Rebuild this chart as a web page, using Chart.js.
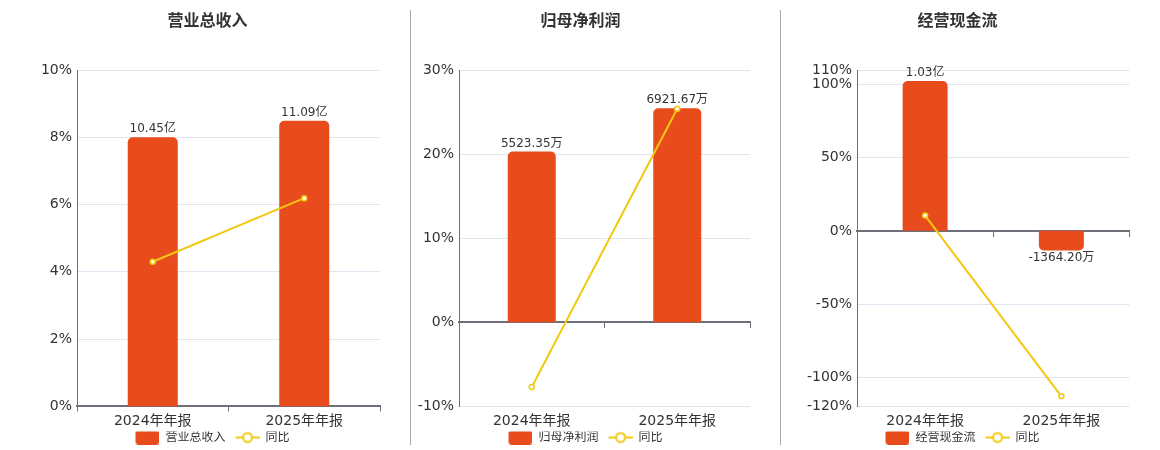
<!DOCTYPE html>
<html lang="zh-CN">
<head>
    <meta charset="UTF-8">
    <title>财务指标</title>
    <script src="https://cdn.jsdelivr.net/npm/chart.js"></script>
    <style>
        body { margin: 0; background: #fff; }
        #wrap { position: relative; width: 1160px; height: 450px; overflow: hidden; }
        .box { position: absolute; top: 0; height: 450px; }
        .sep { position: absolute; top: 10px; width: 1px; height: 435px; background: #aaa; }
    </style>
</head>
<body>
<div id="wrap">
    <div class="box" style="left:0; width:415px;"><canvas id="chart_revenue"></canvas></div>
    <div class="box" style="left:405px; width:351px;"><canvas id="chart_profit"></canvas></div>
    <div class="box" style="left:780px; width:355px;"><canvas id="chart_cash"></canvas></div>
    <div class="sep" style="left:410px;"></div>
    <div class="sep" style="left:780px;"></div>
</div>

<script>
// Data (amounts in 万元, growth in %)
const categories = ['2024年年报', '2025年年报'];

const revenueValues = [104500, 110900];
const revenueYoY = [4.3, 6.19];
const revenueTicks = [0, 2, 4, 6, 8, 10];

const profitValues = [5523.35, 6921.67];
const profitYoY = [-7.7, 25.4];
const profitTicks = [-10, 0, 10, 20, 30];

const cashValues = [10300, -1364.20];
const cashYoY = [10.5, -113.1];
const cashTicks = [-120, -100, -50, 0, 50, 100, 110];

// Colors
const barColor = '#e84b1c';
const lineColor = '#f2c811';
const axisColor = '#6e7079';
const gridColor = '#e0e6f1';
const textColor = '#333';

Chart.defaults.font.family = "'DejaVu Sans', 'Noto Sans CJK SC', sans-serif";
Chart.defaults.color = textColor;

// Format amounts as 亿 / 万
function fmtAmount(v) {
    return Math.abs(v) >= 10000 ? (v / 10000).toFixed(2) + '亿' : v.toFixed(2) + '万';
}

// Legend icons
function makeBarIcon(color) {
    const c = document.createElement('canvas');
    c.width = 34; c.height = 14;
    const g = c.getContext('2d');
    g.fillStyle = color;
    g.beginPath(); g.roundRect(10, 0, 24, 14, 3); g.fill();
    return c;
}
function makeLineIcon(color) {
    const c = document.createElement('canvas');
    c.width = 34; c.height = 14;
    const g = c.getContext('2d');
    g.strokeStyle = color; g.lineWidth = 2;
    g.beginPath(); g.moveTo(10, 7); g.lineTo(34, 7); g.stroke();
    g.beginPath(); g.arc(22, 7, 4.5, 0, Math.PI * 2);
    g.fillStyle = '#fff'; g.fill(); g.stroke();
    return c;
}
const barIcon = makeBarIcon(barColor);
const lineIcon = makeLineIcon(lineColor);

// Value labels on the bars
const barLabels = {
    id: 'barLabels',
    afterDatasetsDraw(chart) {
        const ctx = chart.ctx;
        const values = chart.data.datasets[0].data;
        ctx.save();
        ctx.font = "12px 'DejaVu Sans', 'Noto Sans CJK SC', sans-serif";
        ctx.fillStyle = textColor;
        ctx.textAlign = 'center';
        ctx.textBaseline = 'alphabetic';
        chart.getDatasetMeta(0).data.forEach((bar, i) => {
            const v = values[i];
            ctx.fillText(fmtAmount(v), bar.x, v >= 0 ? bar.y - 5 : bar.y + 11);
        });
        ctx.restore();
    }
};

// Chart setup function
function initChart(id, p) {
    const scales = {
        x: {
            type: 'category', position: 'bottom', offset: true,
            grid: { drawOnChartArea: false, offset: true, tickLength: 5, color: p.zeroAxis ? 'transparent' : axisColor },
            border: { color: p.zeroAxis ? 'transparent' : axisColor, width: 2 },
            ticks: { color: textColor, font: { size: 14, lineHeight: 1.15 }, padding: 2, maxRotation: 0, autoSkip: false }
        },
        y: {
            type: 'linear', position: 'left',
            min: p.ticks[0], max: p.ticks[p.ticks.length - 1],
            afterBuildTicks: s => { s.ticks = p.ticks.map(v => ({ value: v })); },
            afterFit: s => { s.width = p.leftW; },
            grid: { color: gridColor, drawTicks: false },
            border: { color: axisColor, width: 1 },
            ticks: { color: textColor, font: { size: 14 }, padding: 5, callback: v => v + '%' }
        },
        yb: {
            type: 'linear', axis: 'y', position: 'right',
            min: p.barMin, max: p.barMax,
            afterFit: s => { s.width = p.rightW; },
            grid: { display: false },
            border: { display: false },
            ticks: { display: false }
        }
    };
    if (p.zeroAxis) {
        // x axis line drawn through 0%
        scales.xz = {
            type: 'category', axis: 'x', position: { y: 0 }, offset: true,
            grid: { drawOnChartArea: false, offset: true, tickLength: 5, color: axisColor },
            border: { color: axisColor, width: 2 },
            ticks: { display: false }
        };
    }

    return new Chart(document.getElementById(id), {
        type: 'bar',
        data: {
            labels: categories,
            datasets: [
                {
                    type: 'bar', label: p.barName, data: p.values,
                    xAxisID: 'x', yAxisID: 'yb',
                    backgroundColor: barColor, borderRadius: 5, borderSkipped: 'start',
                    barPercentage: 0.33, categoryPercentage: 1, order: 2
                },
                {
                    type: 'line', label: '同比', data: p.yoy,
                    xAxisID: 'x', yAxisID: 'y',
                    borderColor: lineColor, borderWidth: 2, tension: 0,
                    pointRadius: 2.5, pointBorderWidth: 1.5,
                    pointBackgroundColor: '#fff', pointBorderColor: lineColor, order: 1
                }
            ]
        },
        options: {
            responsive: true,
            maintainAspectRatio: false,
            animation: false,
            layout: { padding: { top: 0, left: 0, right: 0, bottom: -3.5 } },
            plugins: {
                title: {
                    display: true, text: p.title, color: textColor,
                    font: { size: 16, weight: 'bold' },
                    padding: { top: 12, bottom: 38.8 }
                },
                legend: {
                    position: 'bottom',
                    maxHeight: 23.4,
                    labels: {
                        usePointStyle: true, pointStyleWidth: 34, padding: 0,
                        color: textColor, font: { size: 12 },
                        generateLabels: () => [
                            { text: p.barName, pointStyle: barIcon, fillStyle: barColor, strokeStyle: barColor, lineWidth: 0, hidden: false, datasetIndex: 0, fontColor: textColor },
                            { text: '同比', pointStyle: lineIcon, fillStyle: '#fff', strokeStyle: lineColor, lineWidth: 0, hidden: false, datasetIndex: 1, fontColor: textColor }
                        ]
                    }
                },
                tooltip: { enabled: false }
            },
            scales
        },
        plugins: [barLabels]
    });
}

initChart('chart_revenue', {
    title: '营业总收入', barName: '营业总收入',
    values: revenueValues, yoy: revenueYoY, ticks: revenueTicks,
    barMin: 0, barMax: 130600, leftW: 77, rightW: 35, zeroAxis: false
});
initChart('chart_profit', {
    title: '归母净利润', barName: '归母净利润',
    values: profitValues, yoy: profitYoY, ticks: profitTicks,
    barMin: -2720, barMax: 8160, leftW: 54, rightW: 6, zeroAxis: true
});
initChart('chart_cash', {
    title: '经营现金流', barName: '经营现金流',
    values: cashValues, yoy: cashYoY, ticks: cashTicks,
    barMin: -12100, barMax: 11060, leftW: 77, rightW: 5, zeroAxis: true
});
</script>
</body>
</html>
